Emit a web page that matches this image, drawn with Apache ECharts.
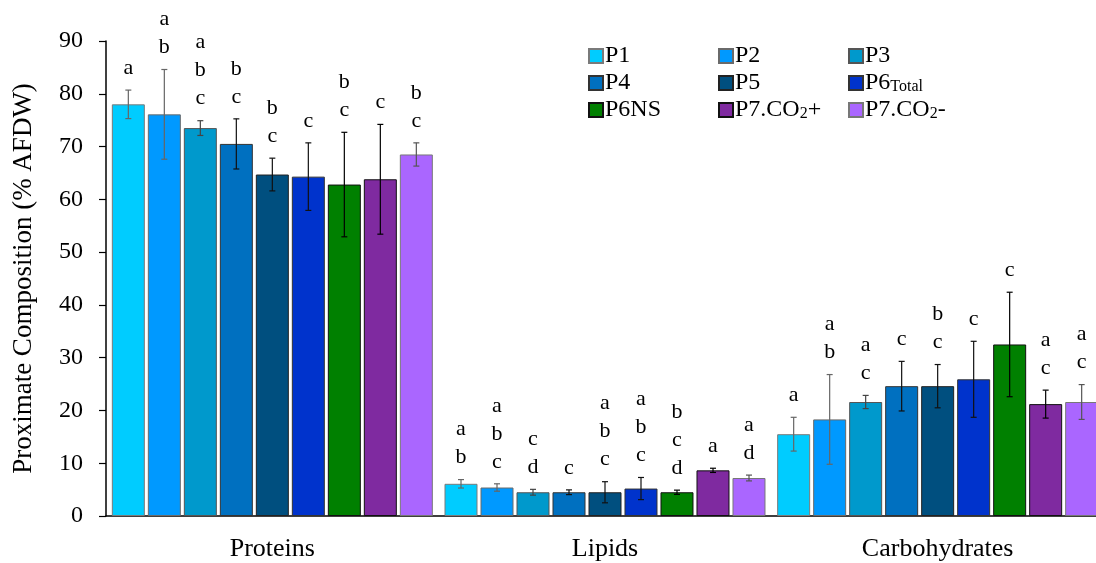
<!DOCTYPE html>
<html>
<head>
<meta charset="utf-8">
<script src="https://cdn.jsdelivr.net/npm/echarts@6/dist/echarts.min.js"></script>
<style>
  html, body { margin: 0; padding: 0; background: #fff; }
  #chart { width: 1096px; height: 563px; }
</style>
</head>
<body>
<div id="chart"></div>
<script>
// Proximate composition (% AFDW) per harvest treatment
const categories = ['Proteins', 'Lipids', 'Carbohydrates'];
const seriesNames = ['P1', 'P2', 'P3', 'P4', 'P5', 'P6Total', 'P6NS', 'P7.CO2+', 'P7.CO2-'];
const seriesColors = ['#00CCFF', '#0099FF', '#0099CC', '#0070C0', '#004F7F', '#0033CC', '#008000', '#7F2AA0', '#AA66FF'];
const borderColors = ['#7a7a7a', '#6a6a6a', '#555555', '#333333', '#222222', '#333333', '#111111', '#111111', '#777777'];
const errorColors = ['#666666', '#666666', '#444444', '#111111', '#111111', '#111111', '#000000', '#000000', '#555555'];

const proteinMean = [78.0, 76.1, 73.5, 70.5, 64.7, 64.3, 62.8, 63.8, 68.5];
const proteinSD   = [2.7, 8.5, 1.4, 4.75, 3.1, 6.4, 9.9, 10.4, 2.2];
const lipidMean   = [6.1, 5.4, 4.5, 4.5, 4.5, 5.2, 4.5, 8.65, 7.2];
const lipidSD     = [0.8, 0.7, 0.55, 0.45, 2.0, 2.1, 0.4, 0.4, 0.55];
const carbMean    = [15.5, 18.3, 21.6, 24.6, 24.6, 25.9, 32.5, 21.2, 21.6];
const carbSD      = [3.2, 8.5, 1.25, 4.7, 4.1, 7.2, 9.9, 2.65, 3.3];

// significance groupings (letters stacked above each bar)
const proteinLetters = ['a', 'ab', 'abc', 'bc', 'bc', 'c', 'bc', 'c', 'bc'];
const lipidLetters   = ['ab', 'abc', 'cd', 'c', 'abc', 'abc', 'bcd', 'a', 'ad'];
const carbLetters    = ['a', 'ab', 'ac', 'c', 'bc', 'c', 'c', 'ac', 'ac'];

const yTicks = { min: 0, max: 90, interval: 10 };

const means = [proteinMean, lipidMean, carbMean];
const sds = [proteinSD, lipidSD, carbSD];
const letters = [proteinLetters, lipidLetters, carbLetters];

const FONT = '"Liberation Serif", "Times New Roman", serif';
const BAR_W = 33;
const BAR_GAP = 3;

const barSeries = seriesNames.map((name, s) => ({
  name: name,
  type: 'bar',
  barWidth: BAR_W,
  barGap: (BAR_GAP / BAR_W * 100).toFixed(2) + '%',
  data: categories.map((c, ci) => means[ci][s]),
  itemStyle: { color: seriesColors[s], borderColor: borderColors[s], borderWidth: 1 },
  emphasis: { disabled: true },
  z: 2
}));

const errData = [];
categories.forEach((c, ci) => {
  seriesNames.forEach((n, s) => {
    errData.push([ci, s, means[ci][s] + sds[ci][s], means[ci][s] - sds[ci][s]]);
  });
});

const errorSeries = {
  type: 'custom',
  data: errData,
  encode: { x: 0, y: 2 },
  z: 5,
  silent: true,
  renderItem: function (params, api) {
    const ci = api.value(0);
    const s = api.value(1);
    const hi = api.value(2);
    const lo = api.value(3);
    const n = seriesNames.length;
    const off = (s - (n - 1) / 2) * (BAR_W + BAR_GAP);
    const top = api.coord([ci, hi]);
    const bot = api.coord([ci, lo]);
    const x = top[0] + off;
    const col = errorColors[s];
    const cap = 3;
    const st = { stroke: col, lineWidth: 1.2 };
    const txt = letters[ci][s].split('').join('\n');
    return {
      type: 'group',
      children: [
        { type: 'line', shape: { x1: x, y1: top[1], x2: x, y2: bot[1] }, style: st },
        { type: 'line', shape: { x1: x - cap, y1: top[1], x2: x + cap, y2: top[1] }, style: st },
        { type: 'line', shape: { x1: x - cap, y1: bot[1], x2: x + cap, y2: bot[1] }, style: st },
        {
          type: 'text',
          x: x, y: top[1] - 8,
          style: {
            text: txt,
            fill: '#000',
            font: '22px ' + FONT,
            lineHeight: 28,
            align: 'center',
            verticalAlign: 'bottom'
          }
        }
      ]
    };
  }
};

const legendRich = {
  sub: { fontFamily: FONT, fontSize: 16, color: '#000', padding: [8, 0, 0, 0] }
};
function legendFmt(name) {
  if (name === 'P6Total') return 'P6{sub|Total}';
  if (name === 'P7.CO2+') return 'P7.CO{sub|2}+';
  if (name === 'P7.CO2-') return 'P7.CO{sub|2}-';
  return name;
}
function makeLegend(items, left) {
  return {
    data: items,
    orient: 'vertical',
    left: left,
    top: 44,
    padding: 0,
    itemWidth: 14,
    itemHeight: 14,
    itemGap: 3,
    icon: 'rect',
    selectedMode: false,
    formatter: legendFmt,
    textStyle: { fontFamily: FONT, fontSize: 24, color: '#000', lineHeight: 24, padding: [0, 0, 0, -3], rich: legendRich }
  };
}

const chart = echarts.init(document.getElementById('chart'), null, { renderer: 'canvas' });
chart.setOption({
  animation: false,
  backgroundColor: '#fff',
  legend: [
    makeLegend(['P1', 'P4', 'P6NS'], 588),
    makeLegend(['P2', 'P5', 'P7.CO2+'], 718),
    makeLegend(['P3', 'P6Total', 'P7.CO2-'], 848)
  ],
  grid: { left: 106, top: 41, width: 998, height: 475, outerBoundsMode: 'none', containLabel: false },
  xAxis: {
    type: 'category',
    data: categories,
    axisLine: { lineStyle: { color: '#000', width: 1.5 } },
    axisTick: { show: false },
    axisLabel: { fontFamily: FONT, fontSize: 26, color: '#000', margin: 20 }
  },
  yAxis: {
    type: 'value',
    min: yTicks.min,
    max: yTicks.max,
    interval: yTicks.interval,
    name: 'Proximate Composition (% AFDW)',
    nameLocation: 'middle',
    nameGap: 69,
    nameTextStyle: { fontFamily: FONT, fontSize: 27, color: '#000' },
    axisLine: { show: true, lineStyle: { color: '#000', width: 1.5 } },
    axisTick: { show: true, inside: false, length: 7, lineStyle: { color: '#000', width: 1.2 } },
    axisLabel: { fontFamily: FONT, fontSize: 24, color: '#000', margin: 23 },
    splitLine: { show: false }
  },
  series: barSeries.concat([errorSeries])
});
</script>
</body>
</html>
